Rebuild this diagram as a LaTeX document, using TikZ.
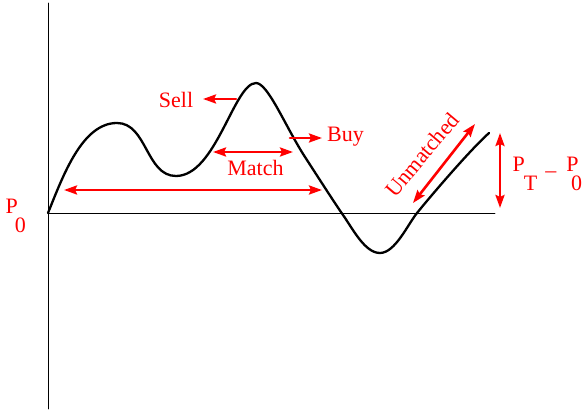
\documentclass[tikz,border=0pt]{standalone}
\usepackage{fontspec}
\setmainfont{Liberation Serif}
\usetikzlibrary{arrows.meta}
\newcommand{\lowsub}[2][-2pt]{\raisebox{-19pt}{\kern#1#2}}

\begin{document}
\begin{tikzpicture}[x=1pt, y=1pt, line join=round, line cap=round,
  >={Stealth[length=13pt, width=9pt, inset=2pt]},
  axisline/.style={line width=0.9pt},
  price/.style={line width=2.3pt},
  flow/.style={red, line width=2.6pt},
  lbl/.style={red, font=\fontsize{22}{26}\selectfont, inner sep=0pt}]
\useasboundingbox (0,0) rectangle (583,412);
\coordinate (O) at (48.000,199.000);
\coordinate (ytop) at (48.000,409.000);
\coordinate (ybot) at (48.000,3.000);
\coordinate (xend) at (495.000,199.000);
\coordinate (peakA) at (117.000,289.000);
\coordinate (dipA) at (176.000,236.000);
\coordinate (peakB) at (256.000,329.000);
\coordinate (fallB) at (305.000,255.000);
\coordinate (crossA) at (343.000,197.000);
\coordinate (dipB) at (380.000,159.000);
\coordinate (crossB) at (417.000,199.000);
\coordinate (endP) at (489.000,279.000);
\coordinate (spanL) at (64.000,222.000);
\coordinate (spanR) at (322.000,222.000);
\coordinate (matchL) at (213.000,260.000);
\coordinate (matchR) at (293.000,260.000);
\coordinate (sellA) at (236.000,313.000);
\coordinate (sellB) at (203.000,313.000);
\coordinate (buyA) at (290.000,274.000);
\coordinate (buyB) at (322.000,274.000);
\coordinate (unmL) at (413.000,209.000);
\coordinate (unmR) at (475.000,288.000);
\coordinate (gapT) at (500.000,279.000);
\coordinate (gapB) at (500.000,204.000);
\draw[axisline] (ybot) -- (ytop);
\draw[axisline] (O) -- (xend);
\draw[price] (O) .. controls (63,236) and (82,289) .. (peakA)
  .. controls (147,289) and (146,236) .. (dipA)
  .. controls (216,236) and (234,329) .. (peakB)
  .. controls (268,329) and (285.9,284.4) .. (fallB)
  .. controls (313.2,242.4) and (334.4,209.3) .. (crossA)
  .. controls (353.3,182.3) and (365,159) .. (dipB)
  .. controls (395,159) and (407.6,187.3) .. (crossB)
  .. controls (432.7,218.4) and (470.4,262.3) .. (endP);
\draw[flow, <->] (spanL) -- (spanR);
\draw[flow, <->] (matchL) -- (matchR);
\draw[flow, ->] (sellA) -- (sellB);
\draw[flow, ->] (buyA) -- (buyB);
\draw[flow, <->] (unmL) -- (unmR);
\draw[flow, <->] (gapT) -- (gapB);
\node[lbl, anchor=base] (sell) at (176.000,304.000) {Sell};
\node[lbl, anchor=base west] (buy) at (327.000,270.000) {Buy};
\node[lbl, anchor=base] (match) at (255.500,236.000) {Match};
\node[lbl, rotate=50] (unm) at (422.000,257.000) {Unmatched};
\node[lbl, anchor=base west] (pzero) at (5.500,198.000) {P\lowsub[-3pt]{0}};
\node[lbl, anchor=base west] (gap) at (512.500,240.000)
  {P\lowsub[-1pt]{T}\kern8pt\raisebox{-6pt}{--}\kern10pt P\lowsub[-7.5pt]{0}};
\end{tikzpicture}
\end{document}
